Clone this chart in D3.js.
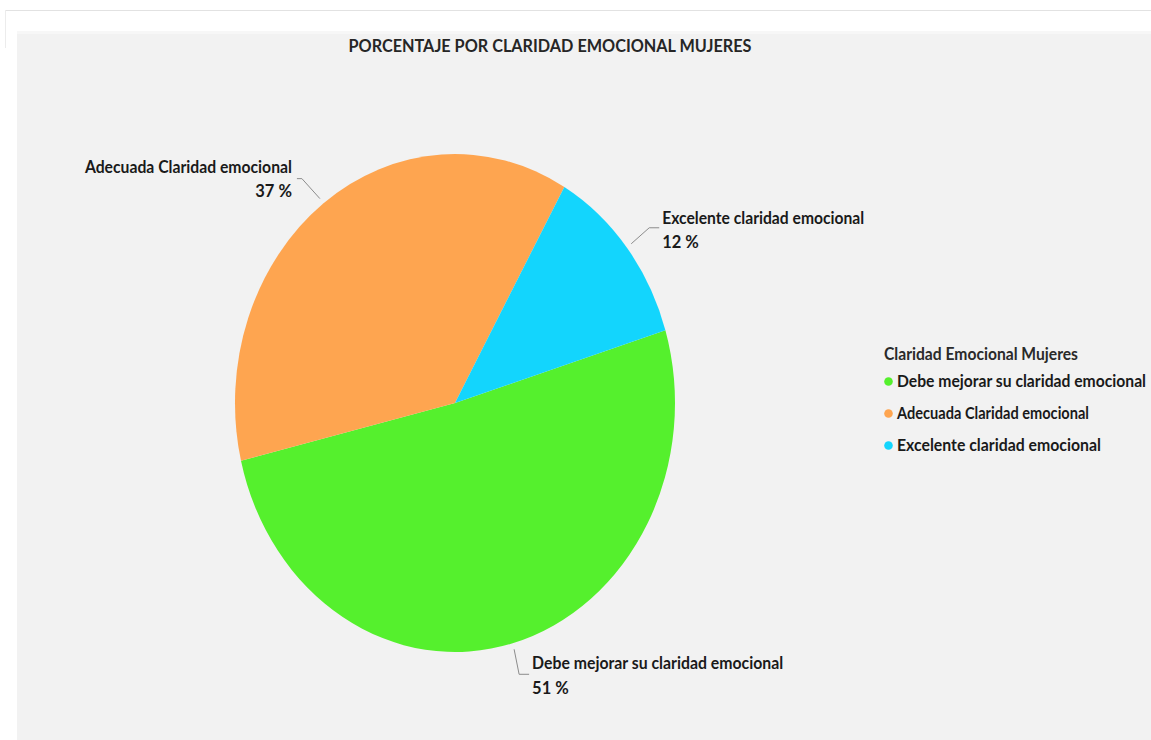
<!DOCTYPE html>
<html>
<head>
<meta charset="utf-8">
<script src="https://cdn.jsdelivr.net/npm/d3@7/dist/d3.min.js"></script>
<style>
  html, body { margin: 0; padding: 0; background: #ffffff; }
  svg { display: block; }
  text { font-family: Lato, "Open Sans", sans-serif; font-weight: 700; }
</style>
</head>
<body>
<script>
// Chart data
const categories = [
  "Debe mejorar su claridad emocional",
  "Adecuada Claridad emocional",
  "Excelente claridad emocional"
];
const percentages = [51, 37, 12];
const sliceColors = ["#55f02d", "#fea550", "#13d5fd"];
const chartTitle = "PORCENTAJE POR CLARIDAD EMOCIONAL MUJERES";
const legendTitle = "Claridad Emocional Mujeres";

const W = 1151, H = 740;
const FS = 16.5;
const svg = d3.select("body").append("svg").attr("width", W).attr("height", H);

// Frame: thin outer rule and the grey chart area
svg.append("line").attr("x1", 5).attr("x2", W).attr("y1", 10.5).attr("y2", 10.5)
  .attr("stroke", "#e2e2e2").attr("stroke-width", 1);
svg.append("line").attr("x1", 5.5).attr("x2", 5.5).attr("y1", 10).attr("y2", 48)
  .attr("stroke", "#ececec").attr("stroke-width", 1);
svg.append("rect").attr("x", 17).attr("y", 31).attr("width", W - 17).attr("height", H - 31)
  .attr("fill", "#f2f2f2");
svg.append("rect").attr("x", 17).attr("y", 31).attr("width", W - 17).attr("height", 3)
  .attr("fill", "#f7f7f7");

// Title
svg.append("text").attr("x", 550).attr("y", 52).attr("text-anchor", "middle")
  .attr("font-size", FS).attr("fill", "#262626")
  .attr("textLength", 403).attr("lengthAdjust", "spacingAndGlyphs")
  .text(chartTitle);

// Pie geometry (drawn slightly narrower than tall)
const cx = 455, cy = 403, ry = 249, rx = 220;
const startDeg = 73;
const color = d3.scaleOrdinal().domain(categories).range(sliceColors);

const pie = d3.pie().sort(null)
  .startAngle(startDeg * Math.PI / 180)
  .endAngle((startDeg + 360) * Math.PI / 180)
  .value(d => d.value);
const data = categories.map((c, i) => ({ name: c, value: percentages[i] }));
const arcs = pie(data);
const arc = d3.arc().innerRadius(0).outerRadius(ry);

const pieG = svg.append("g")
  .attr("transform", `translate(${cx},${cy}) scale(${rx / ry},1)`);
pieG.selectAll("path").data(arcs).join("path")
  .attr("d", arc)
  .attr("fill", d => color(d.data.name));

// Data labels with leader lines
const labelLayout = {
  "Adecuada Claridad emocional": { elbow: [-18, -20], tail: -5, anchor: "end", tx: -5, ty: -6 },
  "Excelente claridad emocional": { elbow: [18, -16], tail: 10, anchor: "start", tx: 3, ty: -4 },
  "Debe mejorar su claridad emocional": { elbow: [5, 25], tail: 10, anchor: "start", tx: 3, ty: -5 }
};
const nameWidths = {
  "Adecuada Claridad emocional": 207,
  "Excelente claridad emocional": 202,
  "Debe mejorar su claridad emocional": 251
};

arcs.forEach(a => {
  const mid = (a.startAngle + a.endAngle) / 2;
  const k = 1.025;
  const px = cx + Math.sin(mid) * rx * k;
  const py = cy - Math.cos(mid) * ry * k;
  const L = labelLayout[a.data.name];
  const ex = px + L.elbow[0], ey = py + L.elbow[1];
  const tx = ex + L.tail;
  svg.append("polyline")
    .attr("points", `${px},${py} ${ex},${ey} ${tx},${ey}`)
    .attr("fill", "none").attr("stroke", "#8c8c8c").attr("stroke-width", 1);
  const lx = tx + L.tx;
  const nameY = ey + L.ty;
  svg.append("text")
    .attr("x", lx).attr("y", nameY)
    .attr("text-anchor", L.anchor).attr("font-size", FS).attr("fill", "#1a1a1a")
    .attr("textLength", nameWidths[a.data.name]).attr("lengthAdjust", "spacingAndGlyphs")
    .text(a.data.name);
  svg.append("text")
    .attr("x", lx).attr("y", nameY + 24.5)
    .attr("text-anchor", L.anchor).attr("font-size", FS).attr("fill", "#1a1a1a")
    .text(a.data.value + " %");
});

// Legend
const LFS = 15.5;
const lg = svg.append("g").attr("transform", "translate(884,360)");
lg.append("text").attr("x", 0).attr("y", 0).attr("font-size", FS).attr("fill", "#2a2a2a")
  .attr("textLength", 194).attr("lengthAdjust", "spacingAndGlyphs")
  .text(legendTitle);
const legendWidths = [249, 192, 204];
const item = lg.selectAll("g.item").data(categories).join("g")
  .attr("class", "item")
  .attr("transform", (d, i) => `translate(0,${27 + i * 32})`);
item.append("circle").attr("cx", 4.5).attr("cy", -5.5).attr("r", 4.3).attr("fill", d => color(d));
item.append("text").attr("x", 13).attr("y", 0).attr("font-size", LFS).attr("fill", "#1a1a1a")
  .attr("transform", "scale(1,1.06)")
  .attr("textLength", (d, i) => legendWidths[i]).attr("lengthAdjust", "spacingAndGlyphs")
  .text(d => d);
</script>
</body>
</html>
